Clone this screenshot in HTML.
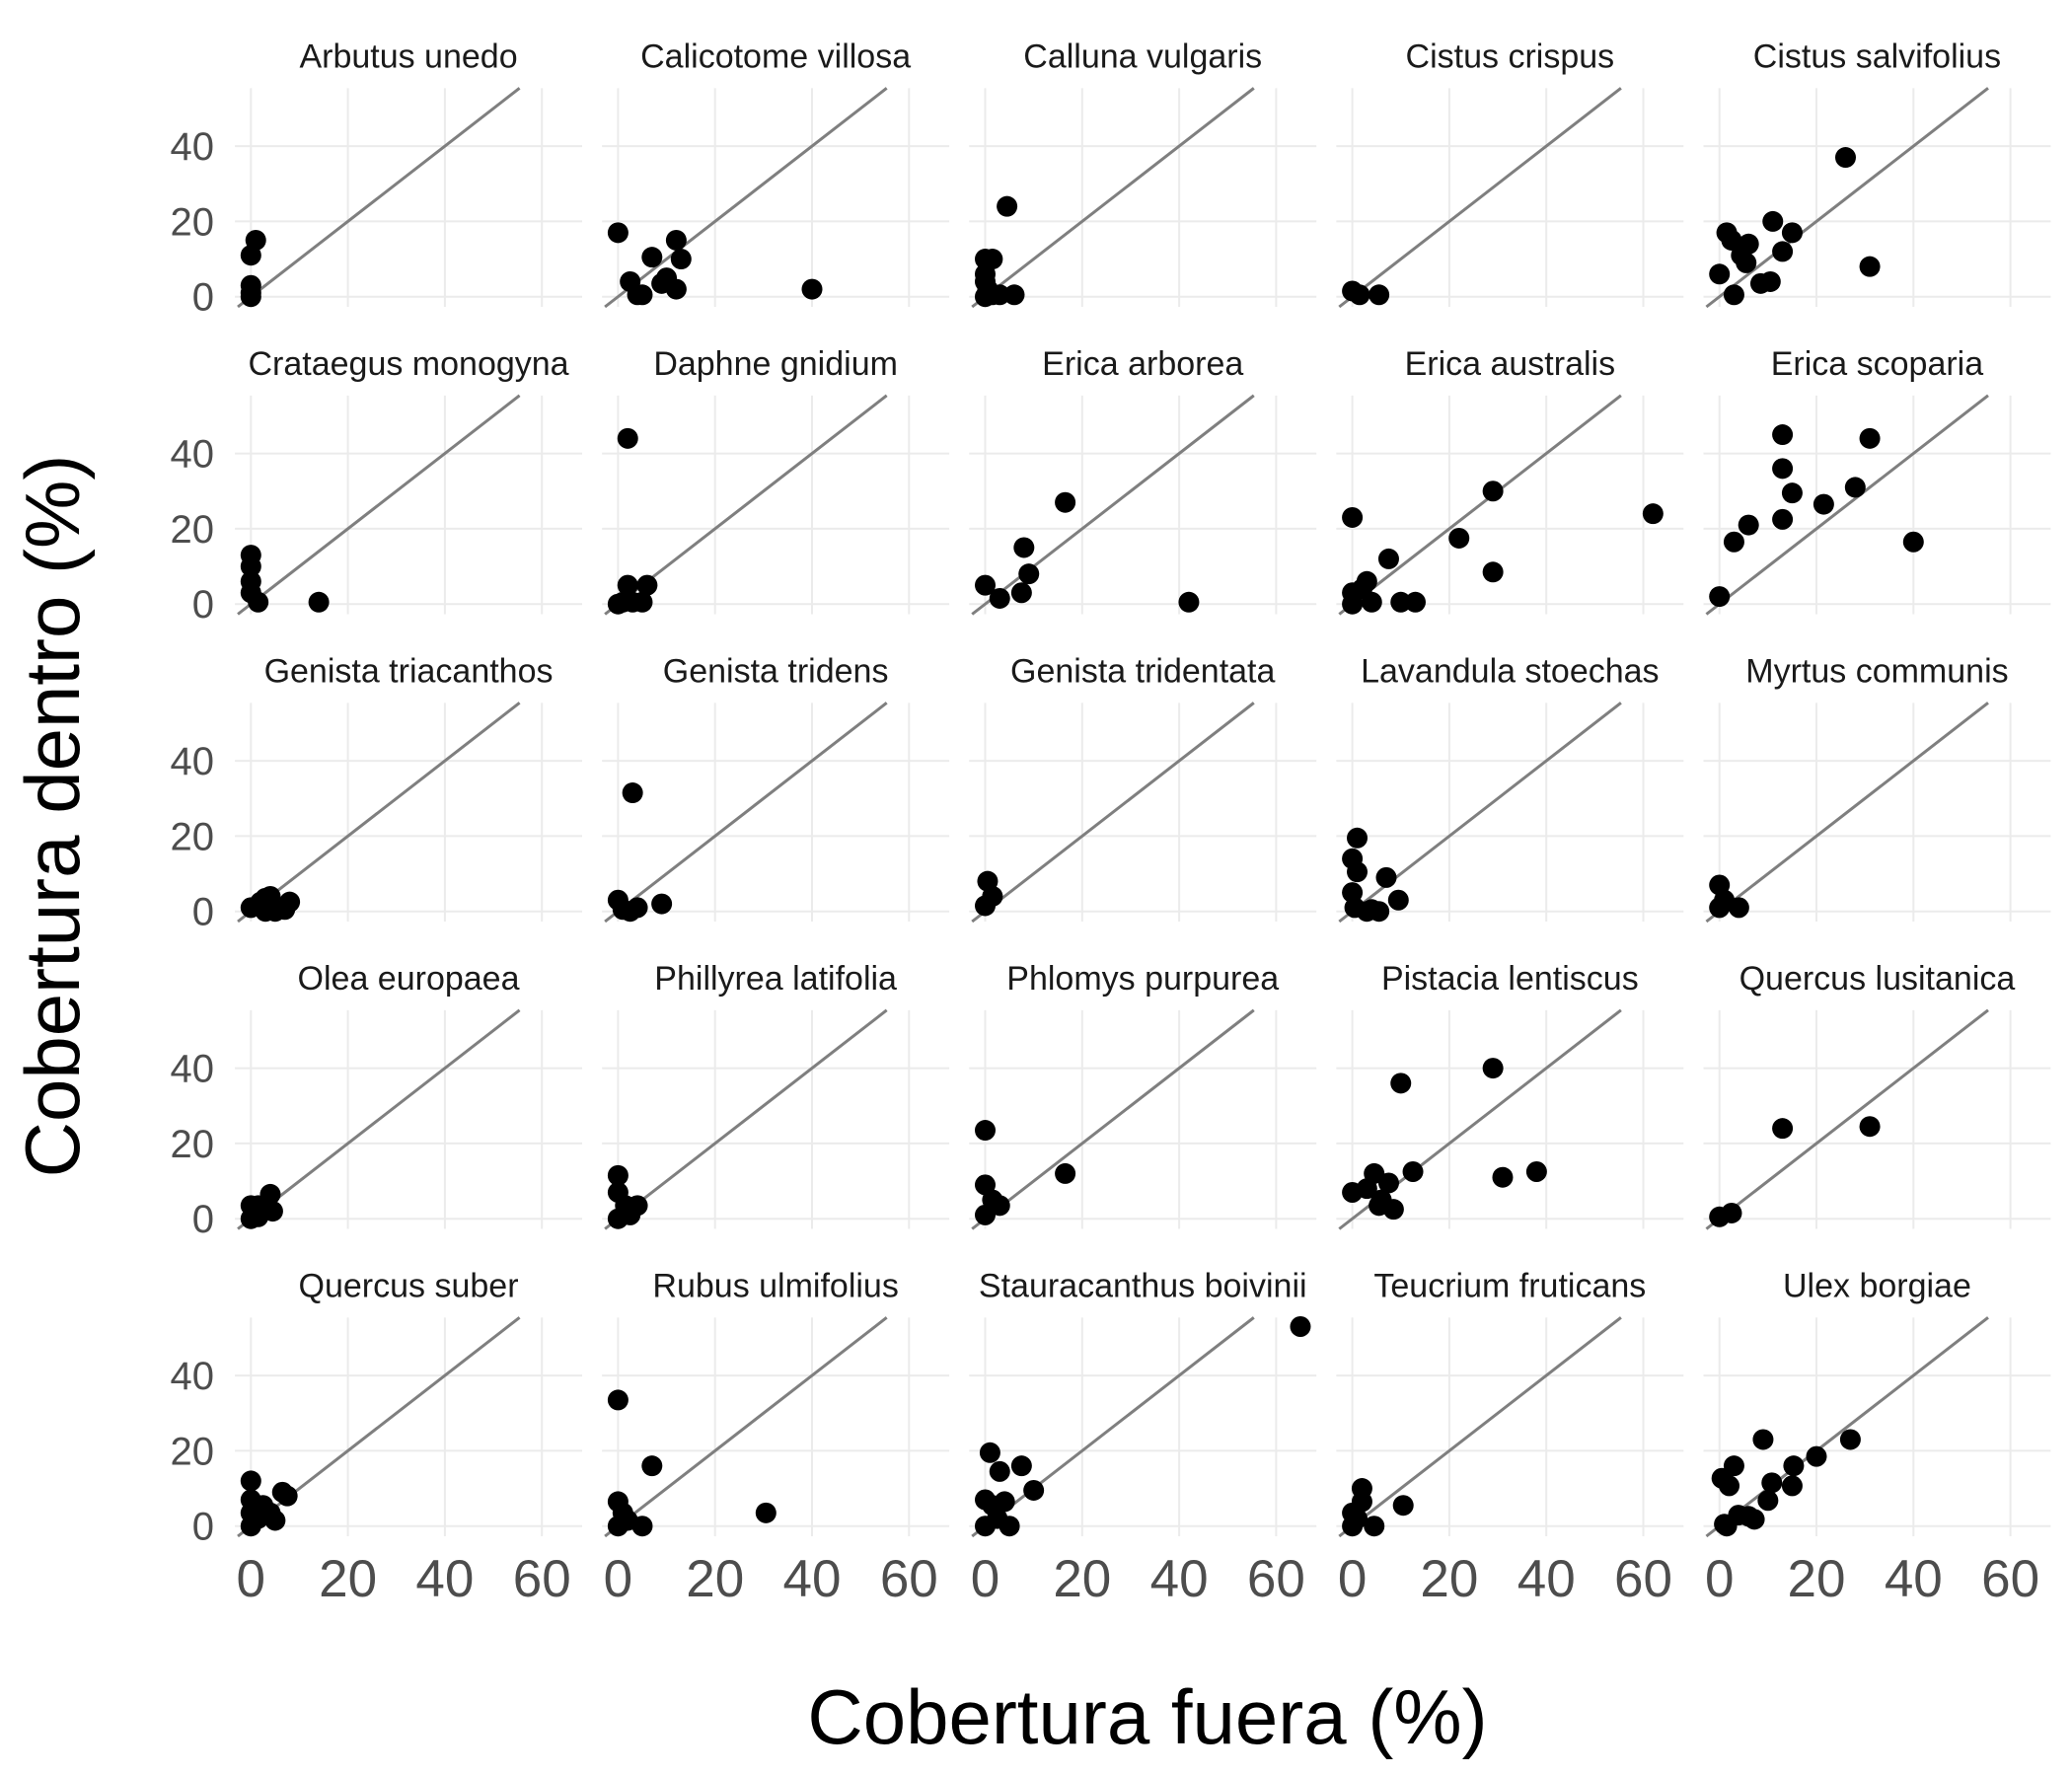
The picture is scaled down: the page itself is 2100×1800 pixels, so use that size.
<!DOCTYPE html>
<html><head><meta charset="utf-8"><style>
html,body{margin:0;padding:0;background:#fff;}
svg{display:block;font-family:"Liberation Sans",Arial,sans-serif;}
</style></head><body>
<svg id="chart" width="2100" height="1800" viewBox="0 0 2100 1800" xmlns="http://www.w3.org/2000/svg">
<text x="1163" y="1767" font-size="78" text-anchor="middle" fill="#000">Cobertura fuera (%)</text>
<text x="0" y="0" font-size="78" text-anchor="middle" fill="#000" transform="translate(80,827) rotate(-90)">Cobertura dentro (%)</text>
</svg>
<script>
const species = ["Arbutus unedo","Calicotome villosa","Calluna vulgaris","Cistus crispus","Cistus salvifolius",
"Crataegus monogyna","Daphne gnidium","Erica arborea","Erica australis","Erica scoparia",
"Genista triacanthos","Genista tridens","Genista tridentata","Lavandula stoechas","Myrtus communis",
"Olea europaea","Phillyrea latifolia","Phlomys purpurea","Pistacia lentiscus","Quercus lusitanica",
"Quercus suber","Rubus ulmifolius","Stauracanthus boivinii","Teucrium fruticans","Ulex borgiae"];
const xTicks = [0,20,40,60];
const yTicks = [0,20,40];
const fuera = [
[1,0,0,0,0],
[0,2.5,4,5,7,9,10,12,13,12,40],
[4.5,0,1.5,0,0,0.5,1.5,3,6,0],
[0,1.5,5.5],
[26,1.5,11,15,2.5,6,4.5,5.5,13,0,3,8.5,10.5,31],
[0,0,0,1.5,14,0],
[2,2,1,3,5,6,0],
[0,3,8,9,7.5,16.5,42],
[0,0,2,3,4,7.5,10,13,22,29,29,62,0],
[0,3,6,13,13,15,13,21.5,28,31,40],
[0,2,3,4,5,7,8,3],
[3,0,1,2.5,4,9],
[0.5,1.5,0],
[1,0,1,0,0.5,3,5.5,7,9.5,4],
[0,1,4,0],
[0,1.5,4,4.5,1.5,0],
[0,0,1.5,4,2.5,0],
[0,0,1.5,3,16.5,0],
[0,4.5,7.5,6,5.5,8.5,10,12.5,29,31,38,3],
[0,2.5,13,31],
[0,0,0,1.5,4,5,6.5,7.5,0,2.5],
[0,0,1,2,5,7,30.5,0],
[65,1,3,7.5,10,0,1.5,4,5,0,2.5],
[2,0,1,2,4.5,10.5,0],
[9,27,3,0.5,2,15.3,20,10.8,15,10,7.2,6,3.9,1.5,1]
];
const dentro = [
[15,11,3,1,0],
[17,4,0.5,0.5,10.5,3.5,5,15,10,2,2],
[24,10,10,6,4,2,0.5,0.5,0.5,0],
[1.5,0.5,0.5],
[37,17,20,17,15,14,11,9,12,6,0.5,3.5,4,8],
[13,10,6,0.5,0.5,3],
[44,5,0.5,0.5,0.5,5,0],
[5,1.5,15,8,3,27,0.5],
[23,3,4,6,0.5,12,0.5,0.5,17.5,30,8.5,24,0],
[2,16.5,21,45,36,29.5,22.5,26.5,31,44,16.5],
[1,2.5,3.5,4,0,0.5,2.5,0],
[31.5,3,0.5,0,1,2],
[8,4,1.5],
[19.5,14,10.5,5,1,0,0,9,3,0.5],
[7,3,1,1],
[3.5,3.5,6.5,2,0.5,0],
[11.5,7,3.5,3.5,1,0],
[23.5,9,5,3.5,12,1],
[7,12,9.5,5,3.5,2.5,36,12.5,40,11,12.5,8],
[0.5,1.5,24,24.5],
[12,7,3.5,2,3.5,1.5,9,8,0,5.5],
[33.5,6.5,3.5,1.5,0,16,3.5,0],
[53,19.5,14.5,16,9.5,7,5.5,6.5,0,0,2],
[10,3.5,2,6.5,0,5.5,0],
[23,23,16,12.7,10.7,16,18.5,11.5,10.7,6.8,1.8,2.6,2.9,0,0.5]
];
const NS = "http://www.w3.org/2000/svg";
const svg = document.getElementById('chart');
const X0 = 254.3, DX = 372.1, Y0 = 300.7, DY = 311.5, SX = 4.915, SY = 3.815;
const XMIN = -3.3, XMAX = 68.3, YMIN = -2.7, YMAX = 55.4;
function mk(tag, attrs){const e=document.createElementNS(NS,tag);for(const k in attrs)e.setAttribute(k,attrs[k]);return e;}
species.forEach((sp, i) => {
  const col = i % 5, row = Math.floor(i / 5);
  const ox = X0 + col * DX, oy = Y0 + row * DY;
  const px = v => ox + v * SX;
  const py = v => oy - v * SY;
  const g = mk('g', {});
  
  
  svg.appendChild(g);
  xTicks.forEach(t => {
    const l = mk('line', {x1: px(t), x2: px(t), y1: py(YMAX), y2: py(YMIN), stroke: '#ebebeb', 'stroke-width': 2});
    
    
    g.appendChild(l);
  });
  yTicks.forEach(t => {
    const l = mk('line', {x1: px(XMIN), x2: px(XMAX), y1: py(t), y2: py(t), stroke: '#ebebeb', 'stroke-width': 2});
    
    
    g.appendChild(l);
  });
  const lo = Math.max(XMIN, YMIN), hi = Math.min(XMAX, YMAX);
  const ref = mk('line', {x1: px(lo), y1: py(lo), x2: px(hi), y2: py(hi), stroke: '#7f7f7f', 'stroke-width': 3});
  
  
  g.appendChild(ref);
  fuera[i].forEach((xv, j) => {
    const c = mk('circle', {cx: px(xv), cy: py(dentro[i][j]), r: 10.5, fill: '#000'});
    
    
    g.appendChild(c);
  });
  const tt = mk('text', {x: px(32.5), y: oy - 232, 'font-size': 34, 'text-anchor': 'middle', fill: '#1a1a1a'});
  tt.textContent = sp;
  
  
  g.appendChild(tt);
  if (col === 0) {
    yTicks.forEach(t => {
      const tl = mk('text', {x: 217, y: py(t) + 14, 'font-size': 40, 'text-anchor': 'end', fill: '#4d4d4d'});
      tl.textContent = t;
      
      
      g.appendChild(tl);
    });
  }
  if (row === 4) {
    xTicks.forEach(t => {
      const tl = mk('text', {x: px(t), y: 1618, 'font-size': 53, 'text-anchor': 'middle', fill: '#4d4d4d'});
      tl.textContent = t;
      
      
      g.appendChild(tl);
    });
  }
});
</script>
</body></html>
